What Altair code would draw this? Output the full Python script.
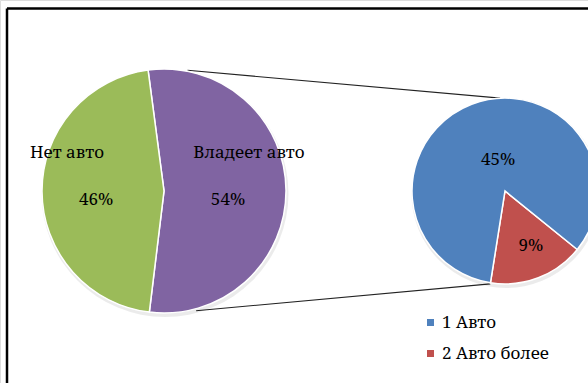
import math

import altair as alt
import pandas as pd

# Main pie: share of households with / without a car
main_labels = ["Владеет авто", "Нет авто"]
main_values = [54, 46]
main_colors = ["#8064A2", "#9BBB59"]

# Secondary pie: car owners broken down by number of cars
sub_labels = ["2 Авто более", "1 Авто"]
sub_values = [9, 45]
sub_colors = ["#C0504D", "#4F81BD"]

legend_entries = ["1 Авто", "2 Авто более"]

# ---- layout (pixels) ----
W, H = 588, 383
MAIN_CX, MAIN_CY, MAIN_R = 164, 191, 122
SUB_CX, SUB_CY, SUB_R = 505, 191, 93
MAIN_START = math.radians(352.5)   # first slice starts just left of 12 o'clock
SUB_START = math.radians(129)
FONT = "Noto Serif"
FONT_SIZE = 17
TAU = 2 * math.pi


def frame(values, labels):
    return pd.DataFrame({
        "cat": labels,
        "val": values,
        "ord": list(range(len(values))),
        "pct": [f"{v}%" for v in values],
    })


main_df = frame(main_values, main_labels)
sub_df = frame(sub_values, sub_labels)

color_scale = alt.Scale(domain=main_labels + sub_labels, range=main_colors + sub_colors)
legend = alt.Legend(
    values=legend_entries, orient="none", legendX=422, legendY=314,
    direction="vertical", title=None, symbolType="square", symbolSize=49,
    symbolStrokeWidth=0, labelFont=FONT, labelFontSize=FONT_SIZE, labelColor="black",
    rowPadding=13, labelOffset=3, padding=0,
)


def theta_enc(df, start):
    return alt.Theta(
        "val:Q", stack=True,
        scale=alt.Scale(domain=[0, float(df["val"].sum())], range=[start, start + TAU]),
    )


def shadow(cx, cy, r):
    return alt.Chart(pd.DataFrame({"k": [0]})).mark_arc(
        outerRadius=r + 1.5, theta=0, theta2=TAU, color="#000000", opacity=0.08
    ).encode(x=alt.value(cx + 1), y=alt.value(cy + 2.5))


def pie(df, cx, cy, r, start):
    return alt.Chart(df).mark_arc(
        outerRadius=r, stroke="white", strokeWidth=1.5
    ).encode(
        x=alt.value(cx), y=alt.value(cy),
        theta=theta_enc(df, start),
        color=alt.Color("cat:N", scale=color_scale, legend=legend),
        order=alt.Order("ord:Q"),
    )


def labels(df, cx, cy, start, field, radius, dx, dy):
    return alt.Chart(df).mark_text(
        radius=radius, dx=dx, dy=dy, font=FONT, fontSize=FONT_SIZE, color="black",
        align="center", baseline="middle",
    ).encode(
        x=alt.value(cx), y=alt.value(cy),
        theta=theta_enc(df, start),
        text=f"{field}:N",
        detail="cat:N",
        order=alt.Order("ord:Q"),
    )


def polar(cx, cy, r, deg):
    a = math.radians(deg)
    return cx + r * math.sin(a), cy - r * math.cos(a)


# connector lines from the main pie to the secondary pie
t0 = polar(MAIN_CX, MAIN_CY, MAIN_R + 1, 11)
t1 = polar(SUB_CX, SUB_CY, SUB_R, -3)
b0 = polar(MAIN_CX, MAIN_CY, MAIN_R + 2, 165)
b1 = polar(SUB_CX, SUB_CY, SUB_R + 1, 189)
one = pd.DataFrame({"k": [0]})


def segment(p0, p1, width=1.1, color="#222222"):
    return alt.Chart(one).mark_rule(color=color, strokeWidth=width).encode(
        x=alt.value(p0[0]), y=alt.value(p0[1]),
        x2=alt.value(p1[0]), y2=alt.value(p1[1]),
    )


layers = [
    segment((7, 8.5), (W, 8.5), 2.5, "black"),
    segment((7, 8.5), (7, H), 2.5, "black"),
    segment(t0, t1),
    segment(b0, b1),
    shadow(MAIN_CX, MAIN_CY, MAIN_R),
    shadow(SUB_CX, SUB_CY, SUB_R),
    pie(main_df, MAIN_CX, MAIN_CY, MAIN_R, MAIN_START),
    pie(sub_df, SUB_CX, SUB_CY, SUB_R, SUB_START),
    labels(main_df, MAIN_CX, MAIN_CY, MAIN_START, "cat", 91, -6, -38),
    labels(main_df, MAIN_CX, MAIN_CY, MAIN_START, "pct", 66, -2, 9),
    labels(sub_df, SUB_CX, SUB_CY, SUB_START, "pct", 46, 9.5, 12),
]

chart = alt.layer(*layers).resolve_scale(theta="independent").properties(
    width=W, height=H, padding=0,
    autosize=alt.AutoSizeParams(type="none"),
).configure_view(stroke=None).configure(background="white", font=FONT)

chart.save("out.html", embed_options={"renderer": "svg", "actions": False})
